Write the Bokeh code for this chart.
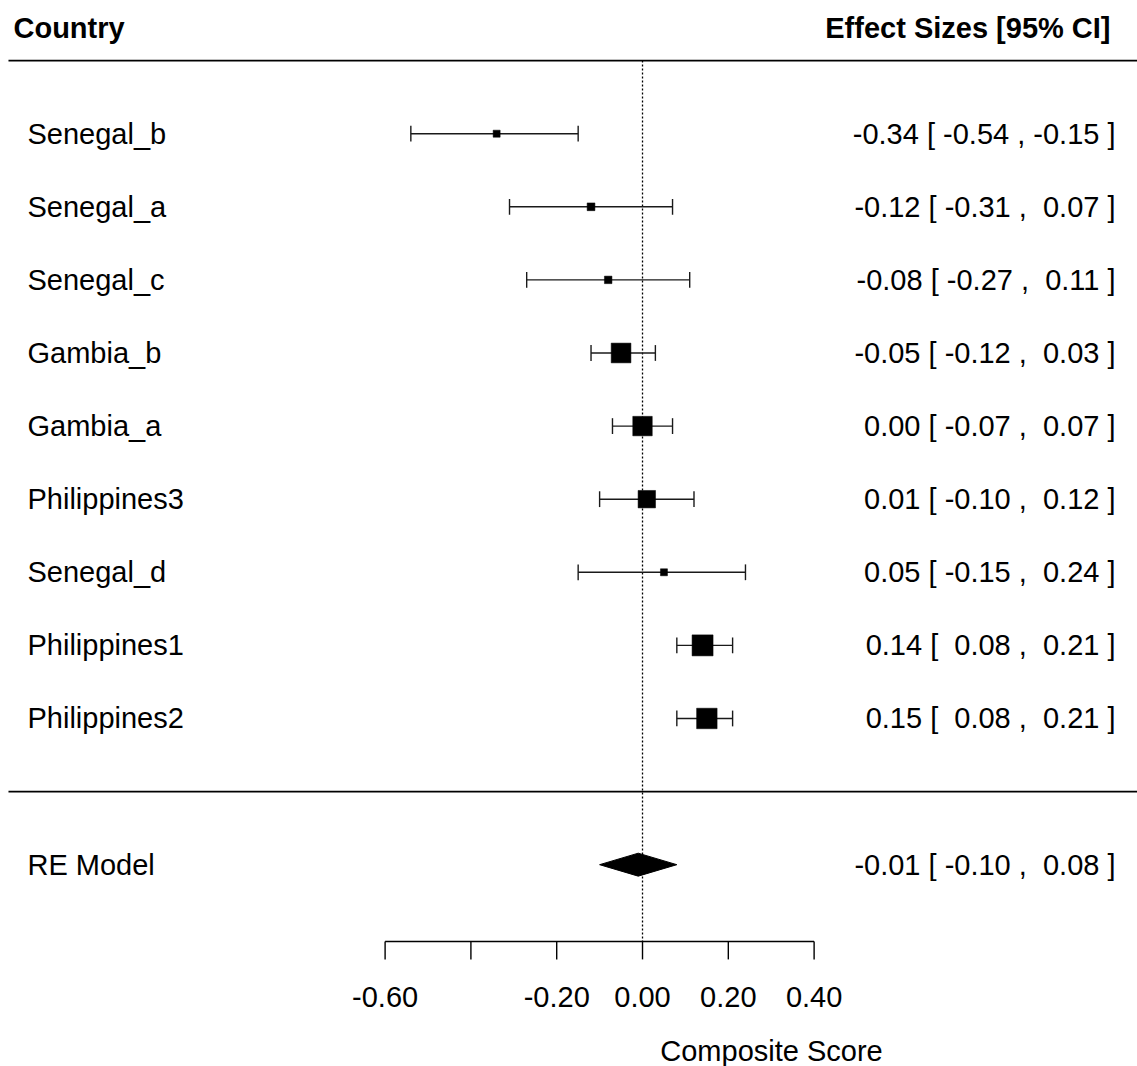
from bokeh.plotting import figure
from bokeh.models import Range1d, ColumnDataSource
from bokeh.core.properties import value
from bokeh.embed import file_html
from bokeh.resources import INLINE

# ---- data ----
studies = ["Senegal_b", "Senegal_a", "Senegal_c", "Gambia_b", "Gambia_a",
           "Philippines3", "Senegal_d", "Philippines1", "Philippines2"]
estimates = [-0.34, -0.12, -0.08, -0.05, 0.00, 0.01, 0.05, 0.14, 0.15]
ci_lower = [-0.54, -0.31, -0.27, -0.12, -0.07, -0.10, -0.15, 0.08, 0.08]
ci_upper = [-0.15, 0.07, 0.11, 0.03, 0.07, 0.12, 0.24, 0.21, 0.21]
weights = [8.3, 8.6, 8.5, 13.3, 13.2, 12.4, 8.3, 13.8, 13.6]
re_label = "RE Model"
re_est, re_lb, re_ub = -0.01, -0.10, 0.08
x_ticks = [-0.6, -0.4, -0.2, 0.0, 0.2, 0.4]
x_tick_labels = ["-0.60", "", "-0.20", "0.00", "0.20", "0.40"]
xlab = "Composite Score"
header_left = "Country"
header_right = "Effect Sizes [95% CI]"

FONT = "Liberation Sans"
FS = "29px"
NB = "\u00a0"

def fmt(v):
    s = f"{v:.2f}"
    if s == "-0.00":
        s = "0.00"
    if not s.startswith("-"):
        s = NB + s
    return s

def ci_text(e, l, u):
    return f"{fmt(e)} [{NB}{fmt(l)} ,{NB}{fmt(u)} ]".strip(NB)

k = len(studies)
rows = list(range(k, 0, -1))
re_row = -1
cap = 0.108

XL, XR = -1.4965, 1.1538
YB, YT = -3.761, 10.822

W, H = 1137, 1066
p = figure(width=W, height=H, output_backend="svg", toolbar_location=None,
           x_range=Range1d(XL, XR), y_range=Range1d(YB, YT),
           min_border=0, outline_line_color=None)
p.axis.visible = False
p.grid.visible = False
p.background_fill_color = "white"
p.border_fill_color = "white"

LX = -1.4779  # left end of rules

# horizontal rules
p.segment(x0=[LX, LX], x1=[XR, XR], y0=[10.0, 0.0], y1=[10.0, 0.0],
          line_color="black", line_width=1.7)

# reference dotted line at 0
p.segment(x0=[0], x1=[0], y0=[10.0], y1=[-2.05], line_color="black",
          line_width=1.3, line_dash="2 2")

wmin, wmax = min(weights), max(weights)
src = ColumnDataSource(dict(row=rows, est=estimates, lb=ci_lower, ub=ci_upper,
                            study=studies,
                            lo=[r - cap for r in rows], hi=[r + cap for r in rows],
                            size=[7 + 14 * (w - wmin) / (wmax - wmin) for w in weights],
                            txt=[ci_text(e, l, u) for e, l, u in zip(estimates, ci_lower, ci_upper)]))
# CI lines and caps
p.segment(x0="lb", x1="ub", y0="row", y1="row", source=src,
          line_color="#1a1a1a", line_width=1.4)
p.segment(x0="lb", x1="lb", y0="lo", y1="hi", source=src, line_color="#1a1a1a", line_width=1.4)
p.segment(x0="ub", x1="ub", y0="lo", y1="hi", source=src, line_color="#1a1a1a", line_width=1.4)

# squares
p.scatter(x="est", y="row", size="size", marker="square", source=src,
          fill_color="black", line_color="black", line_width=0.5)

# diamond for RE
h = 0.157
p.patch(x=[re_lb, re_est, re_ub, re_est], y=[re_row, re_row + h, re_row, re_row - h],
        fill_color="black", line_color="black", line_width=1)

# study labels and CI texts
p.text(x=-1.4336, y="row", text="study", source=src, text_font=value(FONT),
       text_font_size=FS, text_baseline="middle", text_align="left", text_color="black")
p.text(x=1.1026, y="row", text="txt", source=src, text_font=value(FONT),
       text_font_size=FS, text_baseline="middle", text_align="right", text_color="black")
p.text(x=[-1.4336], y=[re_row], text=[re_label], text_font=value(FONT),
       text_font_size=FS, text_baseline="middle", text_align="left", text_color="black")
p.text(x=[1.1026], y=[re_row], text=[ci_text(re_est, re_lb, re_ub)], text_font=value(FONT),
       text_font_size=FS, text_baseline="middle", text_align="right", text_color="black")

# headers
p.text(x=[-1.4662], y=[10.45], text=[header_left], text_font=value(FONT),
       text_font_size=FS, text_font_style="bold", text_baseline="middle", text_align="left")
p.text(x=[1.0909], y=[10.45], text=[header_right], text_font=value(FONT),
       text_font_size=FS, text_font_style="bold", text_baseline="middle", text_align="right")

# custom x axis
ax_y = -2.05
tick_len = 0.246
p.segment(x0=[min(x_ticks)], x1=[max(x_ticks)], y0=[ax_y], y1=[ax_y],
          line_color="black", line_width=1.4)
p.segment(x0=x_ticks, x1=x_ticks, y0=[ax_y] * len(x_ticks), y1=[ax_y - tick_len] * len(x_ticks),
          line_color="black", line_width=1.4)
p.text(x=x_ticks, y=[-2.817] * len(x_ticks), text=x_tick_labels, text_font=value(FONT),
       text_font_size=FS, text_baseline="middle", text_align="center")
p.text(x=[0.3007], y=[-3.545], text=[xlab], text_font=value(FONT),
       text_font_size=FS, text_baseline="middle", text_align="center")

open("out.html", "w").write(file_html(p, INLINE))
